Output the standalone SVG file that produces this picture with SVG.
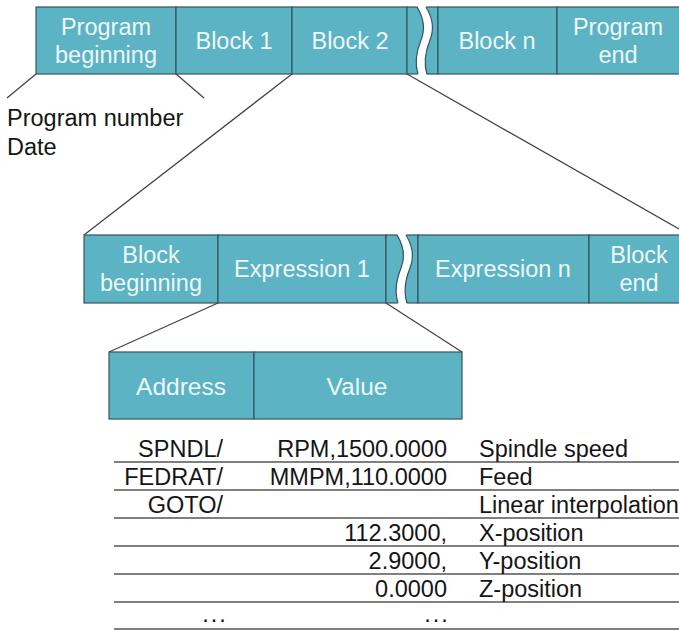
<svg xmlns="http://www.w3.org/2000/svg" width="679" height="630" viewBox="0 0 679 630">
<style>
.cell{fill:#5bb3c4;stroke:#33555c;stroke-width:1.2}
.ct{font-family:"Liberation Sans",Arial,sans-serif;font-size:23.5px;fill:#eef7f8;text-anchor:middle}
.big{font-size:24.5px}
.tt{font-family:"Liberation Sans",Arial,sans-serif;font-size:23.5px;fill:#151515}
.r{text-anchor:end}
.m{text-anchor:middle;letter-spacing:2px}
.gap{fill:#ffffff;stroke:none}
.wave{fill:none;stroke:#33555c;stroke-width:1.2}
.conn{stroke:#444;stroke-width:1.3;fill:none}
.rule{stroke:#555;stroke-width:1.6}
</style>
<rect width="679" height="630" fill="#fff"/>
<g id="connectors">
<line class="conn" x1="36" y1="74" x2="7" y2="98"/>
<line class="conn" x1="176" y1="74" x2="204" y2="98"/>
<line class="conn" x1="292" y1="74" x2="84" y2="235"/>
<line class="conn" x1="407" y1="74" x2="679" y2="229"/>
<line class="conn" x1="218" y1="303" x2="109" y2="352"/>
<line class="conn" x1="386" y1="303" x2="462" y2="352"/>
</g>
<g id="row1">
<g id="program-beginning"><rect class="cell" x="36" y="7" width="140" height="67"/><text class="ct" x="106" y="35">Program</text><text class="ct" x="106" y="63">beginning</text></g>
<g id="block-1"><rect class="cell" x="176" y="7" width="116" height="67"/><text class="ct" x="234" y="49">Block 1</text></g>
<g id="block-2"><rect class="cell" x="292" y="7" width="115" height="67"/><text class="ct" x="350" y="49">Block 2</text></g>
<g id="break-1"><rect class="cell" x="407" y="7" width="31" height="67"/>
<path class="gap" d="M417,6 C425,20 425,30 421,40 C417,50 414,62 418,75 L427,75 C423,62 426,50 430,40 C434,30 434,20 426,6 Z"/>
<path class="wave" d="M417,7 C425,20 425,30 421,40 C417,50 414,62 418,74"/>
<path class="wave" d="M426,7 C434,20 434,30 430,40 C426,50 423,62 427,74"/>
</g>
<g id="block-n"><rect class="cell" x="438" y="7" width="119" height="67"/><text class="ct" x="497" y="49">Block n</text></g>
<g id="program-end"><rect class="cell" x="557" y="7" width="130" height="67"/><text class="ct" x="618" y="35">Program</text><text class="ct" x="618" y="63">end</text></g>
</g>
<g id="program-info"><text class="tt" x="7" y="126">Program number</text><text class="tt" x="7" y="155">Date</text></g>
<g id="row2">
<g id="block-beginning"><rect class="cell" x="84" y="235" width="134" height="68"/><text class="ct" x="151" y="263">Block</text><text class="ct" x="151" y="291">beginning</text></g>
<g id="expression-1"><rect class="cell" x="218" y="235" width="168" height="68"/><text class="ct" x="302" y="277">Expression 1</text></g>
<g id="break-2"><rect class="cell" x="386" y="235" width="32" height="68"/>
<path class="gap" d="M397,234 C405,248 405,258 401,268 C397,278 394,291 398,304 L407,304 C403,291 406,278 410,268 C414,258 414,248 406,234 Z"/>
<path class="wave" d="M397,235 C405,248 405,258 401,268 C397,278 394,291 398,303"/>
<path class="wave" d="M406,235 C414,248 414,258 410,268 C406,278 403,291 407,303"/>
</g>
<g id="expression-n"><rect class="cell" x="418" y="235" width="171" height="68"/><text class="ct" x="503" y="277">Expression n</text></g>
<g id="block-end"><rect class="cell" x="589" y="235" width="100" height="68"/><text class="ct" x="639" y="263">Block</text><text class="ct" x="639" y="291">end</text></g>
</g>
<g id="row3">
<g id="address"><rect class="cell" x="109" y="352" width="145" height="67"/><text class="ct big" x="181" y="395">Address</text></g>
<g id="value"><rect class="cell" x="254" y="352" width="208" height="67"/><text class="ct big" x="357" y="395">Value</text></g>
</g>
<g id="table">
<line class="rule" x1="114" y1="462" x2="679" y2="462"/>
<line class="rule" x1="114" y1="490" x2="679" y2="490"/>
<line class="rule" x1="114" y1="518" x2="679" y2="518"/>
<line class="rule" x1="114" y1="546" x2="679" y2="546"/>
<line class="rule" x1="114" y1="574" x2="679" y2="574"/>
<line class="rule" x1="114" y1="602" x2="679" y2="602"/>
<line class="rule" x1="114" y1="629" x2="679" y2="629"/>
<text class="tt r" x="223" y="457">SPNDL/</text>
<text class="tt r" x="447" y="457">RPM,1500.0000</text>
<text class="tt" x="479" y="457">Spindle speed</text>
<text class="tt r" x="223" y="485">FEDRAT/</text>
<text class="tt r" x="447" y="485">MMPM,110.0000</text>
<text class="tt" x="479" y="485">Feed</text>
<text class="tt r" x="223" y="513">GOTO/</text>
<text class="tt" x="479" y="513">Linear interpolation</text>
<text class="tt r" x="447" y="541">112.3000,</text>
<text class="tt" x="479" y="541">X-position</text>
<text class="tt r" x="447" y="569">2.9000,</text>
<text class="tt" x="479" y="569">Y-position</text>
<text class="tt r" x="447" y="597">0.0000</text>
<text class="tt" x="479" y="597">Z-position</text>
<text class="tt m" x="215" y="622">...</text>
<text class="tt m" x="437" y="622">...</text>
</g>
</svg>
